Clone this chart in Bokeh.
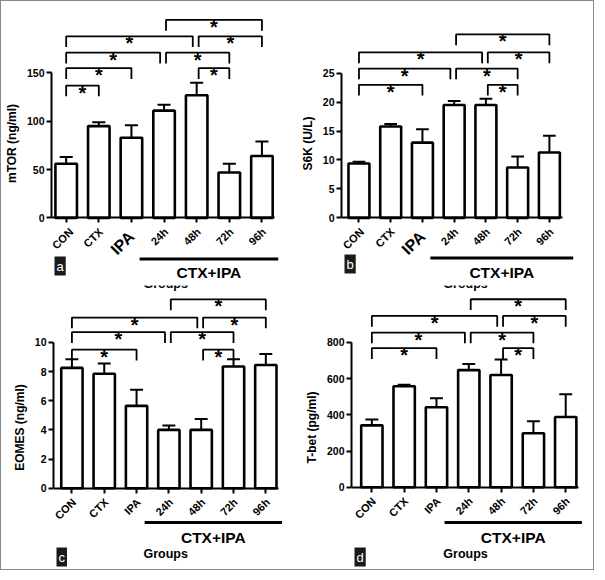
import math
from bokeh.plotting import figure
from bokeh.layouts import column, row
from bokeh.models import ColumnDataSource, FixedTicker, LinearAxis, Range1d, Label
from bokeh.embed import file_html
from bokeh.resources import INLINE
from bokeh.core.properties import value

FONT = "Liberation Sans"

# ---------------- data ----------------
categories = ["CON", "CTX", "IPA", "24h", "48h", "72h", "96h"]
group_label = "CTX+IPA"
group_members = ["24h", "48h", "72h", "96h"]
x_title = "Groups"

mtor_mean = [56, 95, 83, 111, 127, 47, 64]
mtor_sem = [7, 4, 13, 6, 13, 9, 15]
mtor_ticks = [0, 50, 100, 150]

s6k_mean = [9.4, 15.8, 13.0, 19.5, 19.5, 8.7, 11.3]
s6k_sem = [0.3, 0.4, 2.3, 0.7, 1.1, 1.9, 2.9]
s6k_ticks = [0, 5, 10, 15, 20, 25]

eomes_mean = [8.25, 7.85, 5.65, 4.0, 4.0, 8.35, 8.45]
eomes_sem = [0.6, 0.7, 1.1, 0.3, 0.75, 0.5, 0.75]
eomes_ticks = [0, 2, 4, 6, 8, 10]

tbet_mean = [342, 558, 442, 647, 620, 298, 388]
tbet_sem = [32, 8, 49, 33, 85, 66, 126]
tbet_ticks = [0, 200, 400, 600, 800]

# significance comparisons and bracket heights (data units)
mtor_pairs = [("CON", "CTX"), ("CON", "IPA"), ("CON", "24h"), ("CON", "48h"),
              ("24h", "96h"), ("48h", "96h"), ("24h", "72h"), ("48h", "72h")]
mtor_bracket_y = [137, 155, 171, 188, 205, 188, 171, 155]

s6k_pairs = [("CON", "IPA"), ("CON", "24h"), ("CON", "48h"),
             ("24h", "96h"), ("48h", "96h"), ("24h", "72h"), ("48h", "72h")]
s6k_bracket_y = [23, 25.8, 28.6, 31.7, 28.6, 25.8, 23]

eomes_pairs = s6k_pairs
eomes_bracket_y = [9.5, 10.7, 11.7, 12.95, 11.7, 10.7, 9.5]

tbet_pairs = s6k_pairs
tbet_bracket_y = [768, 854, 946, 1038, 946, 854, 768]

panels = [
    dict(letter="a", ylabel="mTOR (ng/ml)", mean=mtor_mean, sem=mtor_sem, ticks=mtor_ticks,
         pairs=mtor_pairs, by=mtor_bracket_y, big_ipa=True, mbl=49, xo0=5,
         xr=(-0.45, 7.09), yr=(-70, 224), gy=-42.5, gty=-56.5, gly=-74.5, top_groups=None,
         gext=0.5, lx=3, ly=10),
    dict(letter="b", ylabel="S6K (U/L)", mean=s6k_mean, sem=s6k_sem, ticks=s6k_ticks,
         pairs=s6k_pairs, by=s6k_bracket_y, big_ipa=True, mbl=42, xo0=3,
         xr=(-0.55, 7.39), yr=(-11.7, 37.4), gy=-6.94, gty=-9.4, gly=-12.5, top_groups=None,
         gext=0.75, lx=3, ly=12),
    dict(letter="c", ylabel="EOMES (ng/ml)", mean=eomes_mean, sem=eomes_sem, ticks=eomes_ticks,
         pairs=eomes_pairs, by=eomes_bracket_y, big_ipa=False, mbl=52, xo0=2,
         xr=(-0.57, 6.98), yr=(-5.57, 13.9), gy=-2.35, gty=-3.36, gly=-4.5, top_groups=14.03,
         gext=0.5, lx=3, ly=3),
    dict(letter="d", ylabel="T-bet (pg/ml)", mean=tbet_mean, sem=tbet_sem, ticks=tbet_ticks,
         pairs=tbet_pairs, by=tbet_bracket_y, big_ipa=False, mbl=54, xo0=2,
         xr=(-0.63, 6.86), yr=(-454, 1114), gy=-195, gty=-276, gly=-368, top_groups=1125,
         gext=0.5, lx=3, ly=3),
]


def make_panel(cfg):
    n = len(categories)
    idx = list(range(n))
    x0, x1 = cfg["xr"]
    y0, y1 = cfg["yr"]
    span = y1 - y0
    p = figure(width=296, height=284, x_range=Range1d(x0, x1), y_range=Range1d(y0, y1),
               output_backend="svg", toolbar_location=None,
               x_axis_location=None, y_axis_location=None,
               min_border_left=cfg["mbl"], min_border_right=0,
               min_border_top=0, min_border_bottom=0)
    p.outline_line_color = None
    p.grid.visible = False
    p.background_fill_color = "white"
    p.border_fill_color = "white"

    ticks = cfg["ticks"]
    yaxis = LinearAxis(ticker=FixedTicker(ticks=ticks, minor_ticks=[]), bounds=(0, max(ticks)),
                       axis_label=cfg["ylabel"], axis_line_width=2, major_tick_line_width=2,
                       major_tick_out=5, major_tick_in=0, minor_tick_out=0, minor_tick_in=0,
                       major_label_text_font=FONT, major_label_text_font_style="bold",
                       major_label_text_font_size="10.5px", major_label_text_color="black",
                       major_label_standoff=2,
                       axis_label_text_font=FONT, axis_label_text_font_style="bold",
                       axis_label_text_font_size="12px", axis_label_text_color="black",
                       axis_label_standoff=5)
    p.add_layout(yaxis, "left")

    # category axis at y = 0; placed "above" so its inward ticks point down and it reserves no room
    xaxis = LinearAxis(fixed_location=0, ticker=FixedTicker(ticks=idx, minor_ticks=[]),
                       bounds=(x0, idx[-1] + 0.4), axis_line_width=2, major_tick_line_width=2,
                       major_tick_out=0, major_tick_in=5, minor_tick_out=0, minor_tick_in=0,
                       major_label_text_font_size="0px", major_label_standoff=0,
                       major_label_overrides={i: "" for i in idx})
    p.add_layout(xaxis, "above")

    mean, sem = cfg["mean"], cfg["sem"]
    src = ColumnDataSource(dict(
        x=idx, top=mean, err=[m + s for m, s in zip(mean, sem)],
        cl=[i - 0.2 for i in idx], cr=[i + 0.2 for i in idx]))
    p.segment(x0="x", y0="top", x1="x", y1="err", source=src, line_color="black", line_width=2)
    p.segment(x0="cl", y0="err", x1="cr", y1="err", source=src, line_color="black", line_width=2)
    p.vbar(x="x", top="top", bottom=0, width=0.66, source=src, fill_color="white",
           line_color="black", line_width=2.6)

    # significance brackets
    drop = span * 11.0 / 290.0
    xs, ys, mx, my = [], [], [], []
    for (a, b), top in zip(cfg["pairs"], cfg["by"]):
        i, j = categories.index(a), categories.index(b)
        xa = i + (0.06 if a in ("24h", "48h") else 0)
        xb = j - (0.12 if b in ("24h", "48h") else 0)
        xs.append([xa, xa, xb, xb])
        ys.append([top - drop, top, top, top - drop])
        mx.append((xa + xb) / 2)
        my.append(top)
    p.multi_line(xs=xs, ys=ys, line_color="black", line_width=1.8)
    p.text(x=mx, y=my, text=["*"] * len(mx), text_align="center", text_baseline="alphabetic",
           y_offset=7, text_font=value(FONT), text_font_style="bold", text_font_size="20px",
           text_color="black")

    # category labels
    sizes, xo, yo = [], [], []
    for k, c in enumerate(categories):
        if c == "IPA" and cfg["big_ipa"]:
            sizes.append("16px"); xo.append(0); yo.append(16)
        else:
            sizes.append("11px"); xo.append(cfg["xo0"] if k == 0 else 2); yo.append(12)
    lsrc = ColumnDataSource(dict(x=idx, y=[0] * n, text=categories, size=sizes, xo=xo, yo=yo))
    p.text(x="x", y="y", text="text", source=lsrc, angle=math.pi / 4, text_align="right",
           text_baseline="middle", text_font_size="size", x_offset="xo", y_offset="yo",
           text_font=value(FONT), text_font_style="bold", text_color="black")

    # group bar and labels
    g0 = categories.index(group_members[0]) - 0.75
    g1 = categories.index(group_members[-1]) + cfg["gext"]
    p.line(x=[g0, g1], y=[cfg["gy"], cfg["gy"]], line_color="black", line_width=3)
    p.text(x=[(g0 + g1) / 2], y=[cfg["gty"]], text=[group_label], text_align="center",
           text_baseline="middle", text_font=value(FONT), text_font_style="bold",
           text_font_size="15.5px", text_color="black")
    p.text(x=[2.9], y=[cfg["gly"]], text=[x_title], text_align="center",
           text_baseline="middle", text_font=value(FONT), text_font_style="bold",
           text_font_size="12.5px", text_color="black")
    if cfg["top_groups"] is not None:
        p.text(x=[2.9], y=[cfg["top_groups"]], text=[x_title], text_align="center",
               text_baseline="middle", text_font=value(FONT), text_font_style="bold",
               text_font_size="12.5px", text_color="black")

    # panel letter (kept inside the plotting frame so that it is not clipped)
    lab = Label(x=cfg["lx"], y=cfg["ly"], x_units="screen", y_units="screen",
                text=cfg["letter"], text_color="white", text_font=FONT, text_font_size="13px",
                background_fill_color="#1a1a1a", padding=2)
    p.add_layout(lab)
    return p


figs = [make_panel(c) for c in panels]
layout = column(row(figs[0], figs[1], spacing=0), row(figs[2], figs[3], spacing=0), spacing=0)
layout.styles = {"border": "1px solid #8a8a8a"}

open("out.html", "w").write(file_html(layout, INLINE))
